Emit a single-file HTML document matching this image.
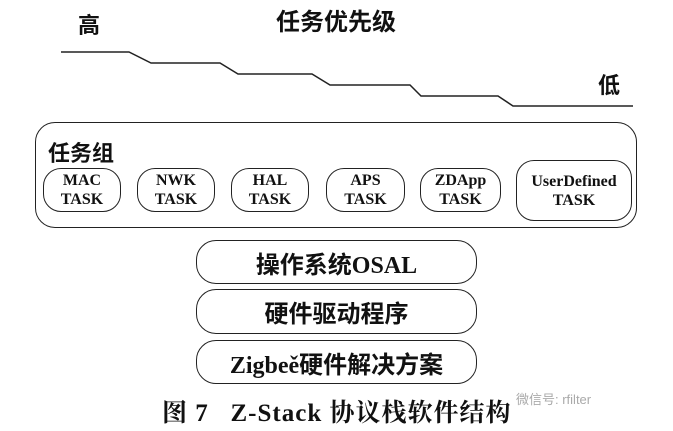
<!DOCTYPE html>
<html><head><meta charset="utf-8"><style>
body{margin:0;width:673px;height:431px;background:#fff;position:relative;overflow:hidden;font-family:"Liberation Serif","Noto Serif CJK SC",serif;color:#111}
.a{position:absolute}
.t{position:absolute;border:1.6px solid #222;border-radius:18px;box-sizing:border-box;text-align:center;font-family:"Liberation Serif",serif;font-size:16px;line-height:19px;font-weight:bold;display:flex;align-items:center;justify-content:center}
.b{position:absolute;left:196px;width:281px;border:1.8px solid #222;border-radius:20px;box-sizing:border-box;display:flex;align-items:center;justify-content:center;font-size:24px;font-weight:bold;font-family:"Liberation Serif","Noto Sans CJK SC",sans-serif}
.c{font-family:"Noto Sans CJK SC",sans-serif;font-weight:bold}
</style></head><body>
<div class="a c" style="left:78px;top:8px;font-size:22px">高</div>
<div class="a c" style="left:276px;top:2px;font-size:24px">任务优先级</div>
<div class="a c" style="left:598px;top:68px;font-size:22px">低</div>
<svg class="a" style="left:0;top:0" width="673" height="431">
<polyline points="61,52 129,52 151,63 220,63 238,74 312,74 330,85 410,85 421,96 498,96 513,106 633,106" fill="none" stroke="#222" stroke-width="1.5"/>
</svg>
<div class="a" style="left:35px;top:122px;width:602px;height:106px;border:1.8px solid #222;border-radius:20px;box-sizing:border-box"></div>
<div class="a c" style="left:48px;top:136px;font-size:22px">任务组</div>
<div class="t" style="left:43px;top:168px;width:78px;height:44px">MAC<br>TASK</div>
<div class="t" style="left:137px;top:168px;width:78px;height:44px">NWK<br>TASK</div>
<div class="t" style="left:231px;top:168px;width:78px;height:44px">HAL<br>TASK</div>
<div class="t" style="left:326px;top:168px;width:79px;height:44px">APS<br>TASK</div>
<div class="t" style="left:420px;top:168px;width:81px;height:44px">ZDApp<br>TASK</div>
<div class="t" style="left:516px;top:160px;width:116px;height:61px;font-size:16px">UserDefined<br>TASK</div>
<div class="b" style="top:240px;height:44px">操作系统OSAL</div>
<div class="b" style="top:289px;height:45px">硬件驱动程序</div>
<div class="b" style="top:340px;height:44px">Zigbeě硬件解决方案</div>
<div class="a" style="left:162px;top:393px;font-size:25px;letter-spacing:1px;font-weight:bold;font-family:'Liberation Serif','Noto Serif CJK SC',serif;white-space:pre">图 7   Z-Stack 协议栈软件结构</div>
<div class="a" style="left:516px;top:389px;font-size:13px;color:#aaa;font-family:'Liberation Sans','Noto Sans CJK SC',sans-serif">微信号: rfilter</div>
</body></html>
